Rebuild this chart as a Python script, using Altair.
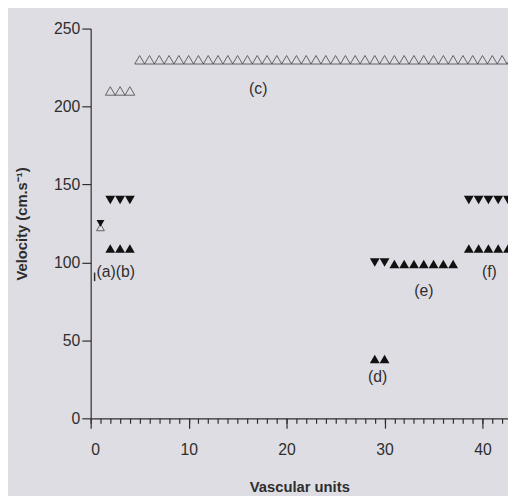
import altair as alt
import pandas as pd

# ---- data ----
open_up_x = [1, 2, 3, 4, 5, 6, 7, 8, 9, 10, 11, 12, 13, 14, 15, 16, 17, 18, 19, 20,
             21, 22, 23, 24, 25, 26, 27, 28, 29, 30, 31, 32, 33, 34, 35, 36, 37, 38,
             39, 40, 41, 42, 43]
open_up_y = [122.5] + [210, 210, 210] + [230] * 39

down_x = [1, 2, 3, 4, 29, 30, 38.6, 39.6, 40.6, 41.6, 42.6]
down_y = [125, 140, 140, 140, 100, 100, 140, 140, 140, 140, 140]

up_x = [2, 3, 4, 29, 30, 31, 32, 33, 34, 35, 36, 37, 38.6, 39.6, 40.6, 41.6, 42.6]
up_y = [109, 109, 109, 38, 38, 99, 99, 99, 99, 99, 99, 99, 109, 109, 109, 109, 109]

label_text = ["(a)(b)", "(c)", "(d)", "(e)", "(f)"]
label_x = [2.55, 17.1, 29.3, 34.0, 40.7]
label_y = [94, 211, 26.5, 81.5, 94]

stray_x = [0.4]
stray_y = [88]
stray_y2 = [93.5]

x_major = [0, 10, 20, 30, 40]
x_minor = list(range(0, 43))
y_ticks = [0, 50, 100, 150, 200, 250]

BG = "#dedde3"
INK = "#2e2e2e"
FILL = "#111111"
FONT = "Liberation Sans"

df_open = pd.DataFrame({"x": open_up_x, "y": open_up_y,
                        "s": [64] + [100] * (len(open_up_x) - 1)})
df_down = pd.DataFrame({"x": down_x, "y": down_y,
                        "s": [64] + [100] * (len(down_x) - 1)})
df_up = pd.DataFrame({"x": up_x, "y": up_y})
df_lab = pd.DataFrame({"x": label_x, "y": label_y, "t": label_text})
df_stray = pd.DataFrame({"x": stray_x, "y": stray_y, "y2": stray_y2})

xs = alt.Scale(domain=[0, 42.6], nice=False, zero=False)
ys = alt.Scale(domain=[0, 250], nice=False)

y_axis = alt.Axis(values=y_ticks, tickSize=9, labelPadding=2, grid=False,
                  title="Velocity (cm.s⁻¹)", titleFontWeight="bold",
                  titleFontSize=15, titlePadding=25)
major_axis = alt.Axis(values=x_major, tickSize=10, labelPadding=14, grid=False,
                      orient="bottom",
                      title="Vascular units", titleFontWeight="bold",
                      titleFontSize=15, titlePadding=22)
minor_axis = alt.Axis(values=x_minor, tickSize=5, labels=False, domain=False,
                      orient="bottom", grid=False, title=None)

open_layer = alt.Chart(df_open).mark_point(
    shape="triangle-up", filled=False, stroke=INK, strokeWidth=1, clip=True
).encode(x=alt.X("x:Q", scale=xs, axis=major_axis), y=alt.Y("y:Q", scale=ys, axis=y_axis),
         size=alt.Size("s:Q", scale=None, legend=None))

down_layer = alt.Chart(df_down).mark_point(
    shape="triangle-down", filled=True, color=FILL, opacity=1, clip=True
).encode(x=alt.X("x:Q", scale=xs, axis=None), y=alt.Y("y:Q", scale=ys, axis=y_axis),
         size=alt.Size("s:Q", scale=None, legend=None))

up_layer = alt.Chart(df_up).mark_point(
    shape="triangle-up", filled=True, size=100, color=FILL, opacity=1, clip=True
).encode(x=alt.X("x:Q", scale=xs, axis=None), y=alt.Y("y:Q", scale=ys, axis=y_axis))

text_layer = alt.Chart(df_lab).mark_text(
    font=FONT, fontSize=16, color=INK, align="center", baseline="middle"
).encode(x=alt.X("x:Q", scale=xs, axis=minor_axis), y=alt.Y("y:Q", scale=ys, axis=y_axis),
         text="t:N")

stray_layer = alt.Chart(df_stray).mark_rule(color=INK, strokeWidth=1.5).encode(
    x=alt.X("x:Q", scale=xs, axis=None), y=alt.Y("y:Q", scale=ys, axis=y_axis), y2="y2:Q")

chart = alt.layer(open_layer, down_layer, up_layer, text_layer, stray_layer).resolve_axis(
    x="independent"
).resolve_scale(size="independent").properties(
    width=424, height=396,
    autosize=alt.AutoSizeParams(type="none"),
    padding={"left": 84, "top": 17, "right": 0, "bottom": 75},
    background=BG,
).configure_view(stroke=None).configure_axis(
    domainColor=INK, tickColor=INK, labelColor=INK, titleColor=INK,
    labelFont=FONT, titleFont=FONT, labelFontSize=16, domainWidth=1.2, tickWidth=1.2,
)

chart.save("out.html", embed_options={"renderer": "svg", "actions": False})
